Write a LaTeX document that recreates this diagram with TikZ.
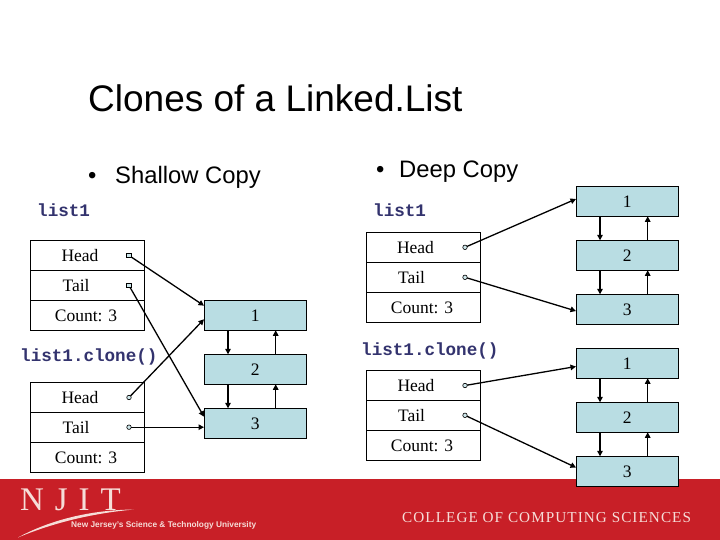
\documentclass[tikz,border=0pt]{standalone}
\usepackage{fontspec}
\usetikzlibrary{arrows.meta}
\setmainfont{Liberation Serif}
\setsansfont{Liberation Sans}
\setmonofont{Liberation Mono}
\newfontfamily\footfont[LetterSpace=7]{Liberation Serif}
\newfontfamily\logofont[LetterSpace=33]{Liberation Serif}
\definecolor{band}{HTML}{C81F27}
\definecolor{cell}{HTML}{B9DDE3}
\definecolor{codeblue}{HTML}{33336E}
\definecolor{pale}{HTML}{F6DDD8}
\tikzset{
  rowbox/.style={draw=black,line width=0.9pt,minimum width=114pt,minimum height=30pt,inner sep=0pt,outer sep=0pt},
  cellbox/.style={draw=black,fill=cell,line width=0.9pt,minimum width=102pt,minimum height=30pt,inner sep=0pt,outer sep=0pt,font=\fontsize{17.5}{20}\selectfont},
  rowtext/.style={inner sep=0pt,font=\fontsize{17.5}{20}\selectfont},
  codetext/.style={inner sep=0pt,anchor=base west,text=codeblue,font=\fontsize{17.6}{20}\ttfamily\bfseries},
  headtext/.style={inner sep=0pt,anchor=base west,text=black,font=\sffamily\fontsize{23.8}{26}\selectfont},
  dot/.style={circle,draw=black,fill=cell!70!white,line width=0.6pt,minimum size=4.5pt,inner sep=0pt,outer sep=0pt},
  conn/.style={draw=black,line width=1.3pt,-{Triangle[length=5.5pt,width=5.5pt]},shorten >=0pt}
}
\begin{document}
\begin{tikzpicture}[x=1pt,y=-1pt]
\useasboundingbox (0,0) rectangle (720,540);
\fill[white] (0,0) rectangle (720,540);
\fill[band] (0,479) rectangle (720,540);
% footer
\node[inner sep=0pt,anchor=base west,text=pale,font=\logofont\fontsize{33}{36}\selectfont] (njit) at (20,510) {NJIT};
\fill[pale,draw=none] (18,537.5) .. controls (50,520) and (90,510) .. (134,509.5) .. controls (95,513) and (55,522) .. (18,537.5) -- cycle;
\node[inner sep=0pt,anchor=base west,text=pale,font=\sffamily\bfseries\fontsize{8.3}{10}\selectfont] (tagline) at (71,527) {New Jersey's Science \& Technology University};
\node[inner sep=0pt,anchor=base west,text=pale,font=\footfont\fontsize{15.2}{18}\selectfont] (college) at (402,522) {COLLEGE OF COMPUTING SCIENCES};
% title and headings
\node[inner sep=0pt,anchor=base west,font=\sffamily\fontsize{37}{40}\selectfont] (title) at (88,112) {Clones of a Linked.List};
\node[headtext] (sb) at (88,184) {•};
\node[headtext] (st) at (115,184) {Shallow Copy};
\node[headtext] (db) at (376,178) {•};
\node[headtext] (dt) at (399,178) {Deep Copy};
\node[codetext] (l1) at (37,216) {list1};
\node[codetext] (l1c) at (20,361) {list1.clone()};
\node[codetext] (r1) at (373,216) {list1};
\node[codetext] (r1c) at (361,355) {list1.clone()};
% left structure boxes
\foreach \n/\y in {a1/255.5,a2/285.5,a3/315.5,c1/397.3,c2/427.3,c3/457.3}
  \node[rowbox] (\n) at (87.5,\y) {};
\foreach \n/\y in {d1/247.3,d2/277.3,d3/307.3,e1/385.3,e2/415.3,e3/445.3}
  \node[rowbox] (\n) at (423.3,\y) {};
\node[rowtext] (ta1) at (80,255.5) {Head};
\node[rowtext] (ta2) at (76,285.5) {Tail};
\node[rowtext] (ta3) at (86,315.5) {Count: 3};
\node[rowtext] (tc1) at (80,398) {Head};
\node[rowtext] (tc2) at (76,428) {Tail};
\node[rowtext] (tc3) at (86,458) {Count: 3};
\node[rowtext] (td1) at (415.5,248) {Head};
\node[rowtext] (td2) at (411.5,278) {Tail};
\node[rowtext] (td3) at (422,308) {Count: 3};
\node[rowtext] (te1) at (416,386) {Head};
\node[rowtext] (te2) at (411.5,416) {Tail};
\node[rowtext] (te3) at (422,446) {Count: 3};
% list cells
\node[cellbox] (p1) at (255.3,315.3) {1};
\node[cellbox] (p2) at (255.3,369.3) {2};
\node[cellbox] (p3) at (255.3,423.3) {3};
\node[cellbox] (q1) at (627.3,201.3) {1};
\node[cellbox] (q2) at (627.3,255.3) {2};
\node[cellbox] (q3) at (627.3,309.3) {3};
\node[cellbox] (s1) at (627.3,363.3) {1};
\node[cellbox] (s2) at (627.3,417.3) {2};
\node[cellbox] (s3) at (627.3,471.3) {3};
% pointer origins
\node[dot,rectangle] (pa1) at (129,255.5) {};
\node[dot,rectangle] (pa2) at (129,285.5) {};
\node[dot] (pc1) at (129,397.5) {};
\node[dot] (pc2) at (129,427.2) {};
\node[dot] (pd1) at (465,247.3) {};
\node[dot] (pd2) at (465,277.3) {};
\node[dot] (pe1) at (465,385.5) {};
\node[dot] (pe2) at (465,415.3) {};
% arrow targets
\coordinate (u1) at (204,305.7);
\coordinate (u2) at (204,319.3);
\coordinate (u3) at (204,416.7);
\coordinate (u4) at (204,427.2);
\coordinate (v1) at (576,199);
\coordinate (v2) at (576,311);
\coordinate (v3) at (576,366.5);
\coordinate (v4) at (576,467.5);
\draw[conn] (pa1) -- (u1);
\draw[conn] (pa2) -- (u3);
\draw[conn] (pc1) -- (u2);
\draw[conn] (pc2) -- (u4);
\draw[conn] (pd1) -- (v1);
\draw[conn] (pd2) -- (v2);
\draw[conn] (pe1) -- (v3);
\draw[conn] (pe2) -- (v4);
% links between cells
\foreach \t/\b in {p1/p2,p2/p3,q1/q2,q2/q3,s1/s2,s2/s3}{
  \draw[conn] ([xshift=-27.3pt]\t.south) -- ([xshift=-27.3pt]\b.north);
  \draw[conn] ([xshift=20.4pt]\b.north) -- ([xshift=20.4pt]\t.south);
}
\end{tikzpicture}
\end{document}
